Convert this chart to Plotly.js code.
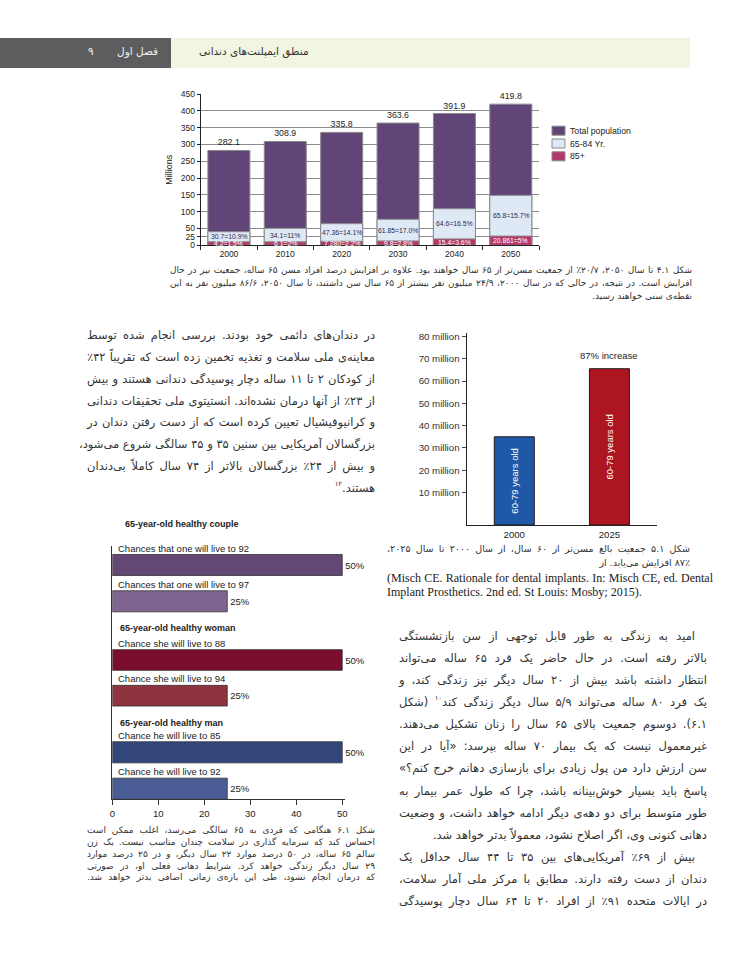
<!DOCTYPE html>
<html><head><meta charset="utf-8">
<script src="https://cdn.plot.ly/plotly-3.0.1.min.js"></script>
<style>
html,body{margin:0;padding:0;background:#fff;}
#page{position:relative;width:737px;height:977px;overflow:hidden;background:#fff;}
#chart{position:absolute;left:0;top:0;width:737px;height:977px;}
.ln{position:absolute;white-space:nowrap;direction:rtl;text-align:justify;text-align-last:justify;font-family:"DejaVu Sans",sans-serif;color:#333;}
.ln.last{text-align:right;text-align-last:right;}
.en{position:absolute;white-space:nowrap;direction:ltr;text-align:justify;text-align-last:justify;font-family:"Liberation Serif","DejaVu Serif",serif;color:#222;}
.en.last{text-align:left;text-align-last:left;}
sup{font-size:60%;vertical-align:6px;line-height:0;}
#err{position:absolute;left:0;top:0;font:10px monospace;color:red;z-index:9;}
</style></head>
<body><div id="page"><div id="chart"></div><div id="err"></div></div>
<script>
window.onerror = function(m){ document.getElementById('err').textContent += m + ' | '; };
// ---------- DATA ----------
// Figure 4.1 : US population (millions)
const years1 = [2000, 2010, 2020, 2030, 2040, 2050];
const totalPop = [282.1, 308.9, 335.8, 363.6, 391.9, 419.8];
const age6584Top = [40.4, 50.5, 64.3, 77.3, 108.8, 148.6];   // visual top of 65-84 bar
const age85Top = [10.5, 10.5, 12, 13, 19, 27.5];             // visual top of 85+ bar
const label6584 = ['30.7=10.9%','34.1=11%','47.36=14.1%','61.85=17.0%','64.6=16.5%','65.8=15.7%'];
const label85 = ['4.2=1.5%','6.1=2%','7.280=2.2%','9.8=2.8%','15.4=3.6%','20.861=5%'];
const seriesNames1 = ['Total population','65-84 Yr.','85+'];
const yTicks1 = [0,25,50,100,150,200,250,300,350,400,450];

// Figure 5.1 : adults 60-79
const years2 = [2000, 2025];
const pop6079 = [35, 65.5];
const barText2 = ['60-79 years old','60-79 years old'];
const increaseLabel = '87% increase';
const yTicks2 = [10,20,30,40,50,60,70,80];
const yTickText2 = yTicks2.map(v => v + ' million');

// Figure 6.1 : life expectancy chances
const groupTitles = ['65-year-old healthy couple','65-year-old healthy woman','65-year-old healthy man'];
const coupleLabels = ['Chances that one will live to 92','Chances that one will live to 97'];
const coupleValues = [50, 25];
const womanLabels = ['Chance she will live to 88','Chance she will live to 94'];
const womanValues = [50, 25];
const manLabels = ['Chance he will live to 85','Chance he will live to 92'];
const manValues = [50, 25];
const xTicks3 = [0,10,20,30,40,50];

// ---------- PAGE GEOMETRY ----------
const W = 737, H = 977;
const fx = p => p / W, fy = p => 1 - p / H;
const FONT = 'Liberation Sans, Arial, sans-serif';
const BASE2 = -4.5;

// ---------- TRACES ----------
const traces = [];
const c1 = ['#614579', '#dfe8f5', '#b5386a'];
[totalPop, age6584Top, age85Top].forEach((vals, i) => {
  const t = {type:'bar', name:seriesNames1[i], x:years1, y:vals, width:7.45,
    marker:{color:c1[i], line:{color:'#8a8a8a', width:1}}, xaxis:'x', yaxis:'y', hoverinfo:'skip', showlegend:false};
  if (i === 0) {
    t.text = vals.map(v => v.toFixed(1)); t.textposition = 'outside';
    t.textfont = {size:8.8, color:'#222'}; t.cliponaxis = false;
  }
  traces.push(t);
});

traces.push({type:'bar', x:years2, y:pop6079.map(v => v - BASE2), base:BASE2, width:10.5,
  marker:{color:['#1e58a6','#ad1621'], line:{color:'#1a1a1a', width:1}},
  text:barText2, textposition:'inside', textangle:-90, insidetextanchor:'middle',
  textfont:{size:9.5, color:'#ffffff', family:FONT}, xaxis:'x2', yaxis:'y2', showlegend:false, hoverinfo:'skip'});

const groups3 = [
  {labels:coupleLabels, values:coupleValues, colors:['#634876','#7f6590'], ya:'y3'},
  {labels:womanLabels, values:womanValues, colors:['#7a0e2c','#8e3441'], ya:'y4'},
  {labels:manLabels, values:manValues, colors:['#33467c','#4a5c94'], ya:'y5'}
];
groups3.forEach(g => {
  traces.push({type:'bar', orientation:'h', x:g.values, y:g.labels, width:0.58,
    marker:{color:g.colors, line:{color:'#333', width:0.8}},
    text:g.values.map(v => v + '%'), textposition:'outside', textfont:{size:9.5, color:'#222'},
    cliponaxis:false, xaxis:'x3', yaxis:g.ya, showlegend:false, hoverinfo:'skip'});
});

// ---------- ANNOTATIONS / LEGEND ----------
const ann = [];
const shapes = [];
years1.forEach((yr, i) => {
  ann.push({x:yr, y:(age85Top[i] + age6584Top[i]) / 2, xref:'x', yref:'y', text:label6584[i],
    showarrow:false, font:{size:6.8, color:'#2a2a50'}});
  ann.push({x:yr, y:age85Top[i] / 2, xref:'x', yref:'y', text:label85[i],
    showarrow:false, font:{size:6.8, color:'#ffffff'}});
});
// legend of figure 4.1
const legRows = [130.7, 143.5, 156.3];
seriesNames1.forEach((n, i) => {
  shapes.push({type:'rect', xref:'paper', yref:'paper', x0:fx(552), x1:fx(565),
    y0:fy(legRows[i] + 4.5), y1:fy(legRows[i] - 4.5), fillcolor:c1[i], line:{color:'#8a8a8a', width:1}});
  ann.push({x:fx(567.5), y:fy(legRows[i]), xref:'paper', yref:'paper', text:n, showarrow:false,
    xanchor:'left', yanchor:'middle', font:{size:8.7, color:'#222'}});
});
ann.push({x:years2[1], y:pop6079[1], xref:'x2', yref:'y2', text:increaseLabel, showarrow:false,
  yshift:13, font:{size:9.5, color:'#222'}});
groups3.forEach(g => {
  g.labels.forEach(l => {
    ann.push({x:0, y:l, xref:'x3', yref:g.ya, text:l, showarrow:false, xanchor:'left', yanchor:'bottom',
      xshift:4, yshift:9.5, font:{size:9.5, color:'#222'}});
  });
});
const titlePos = [[123, 524], [118, 628], [118, 723]];
groupTitles.forEach((t, i) => {
  ann.push({x:fx(titlePos[i][0]), y:fy(titlePos[i][1]), xref:'paper', yref:'paper', text:'<b>' + t + '</b>',
    showarrow:false, xanchor:'left', yanchor:'middle', font:{size:9, color:'#222'}});
});

// ---------- LAYOUT ----------
function catRange(topPx, botPx, firstPx, step) {
  return [1 + (botPx - (firstPx + step)) / step, -(firstPx - topPx) / step];
}
const layout = {
  width:W, height:H, margin:{l:0, r:0, t:0, b:0},
  paper_bgcolor:'rgba(0,0,0,0)', plot_bgcolor:'rgba(0,0,0,0)',
  font:{family:FONT, color:'#222'}, barmode:'overlay', showlegend:false,
  xaxis:{domain:[fx(200.7), fx(539)], anchor:'y', type:'linear', range:[1995, 2055],
    tickvals:years1, ticks:'', showline:true, linecolor:'#222', linewidth:1, showgrid:false, zeroline:false,
    minor:{tick0:1995, dtick:10, ticks:'outside', ticklen:4, tickcolor:'#222', showgrid:false},
    tickfont:{size:8.5}},
  yaxis:{domain:[fy(245.3), fy(94)], anchor:'x', range:[0,450], tickvals:yTicks1, ticks:'outside',
    ticklen:3, tickcolor:'#222', showline:true, linecolor:'#222', showgrid:true, gridcolor:'#5a5a5a',
    gridwidth:0.7, zeroline:false, tickfont:{size:8.5},
    title:{text:'Millions', font:{size:9}, standoff:6}},
  xaxis2:{domain:[fx(466.7), fx(657)], anchor:'y2', type:'linear', range:[1987.5, 2037.5], tickvals:years2,
    ticks:'', showline:true, linecolor:'#222', linewidth:1.2, showgrid:false, zeroline:false, tickfont:{size:9.6}},
  yaxis2:{domain:[fy(525), fy(333)], anchor:'x2', range:[BASE2, 81.5], tickvals:yTicks2, ticktext:yTickText2,
    ticks:'outside', ticklen:4, tickcolor:'#444', showline:true, linecolor:'#222', linewidth:1.2,
    showgrid:false, zeroline:false, tickfont:{size:9.7, color:'#333'}},
  xaxis3:{domain:[fx(112.3), fx(345)], anchor:'y5', range:[0, 50.6], tickvals:xTicks3, ticks:'outside',
    ticklen:5, tickcolor:'#333', showline:true, linecolor:'#333', showgrid:false, zeroline:false,
    tickfont:{size:9.5}},
  yaxis3:{domain:[fy(624), fy(546)], anchor:'x3', type:'category', range:catRange(546, 624, 565, 36.3),
    showticklabels:false, ticks:'', showline:true, linecolor:'#333', showgrid:false},
  yaxis4:{domain:[fy(718), fy(624)], anchor:'x3', type:'category', range:catRange(624, 718, 660, 35.7),
    showticklabels:false, ticks:'', showline:true, linecolor:'#333', showgrid:false},
  yaxis5:{domain:[fy(799.3), fy(718)], anchor:'x3', type:'category', range:catRange(718, 799.3, 752.3, 36.4),
    showticklabels:false, ticks:'', showline:true, linecolor:'#333', showgrid:false},
  shapes:shapes,
  annotations:ann
};
Plotly.newPlot('chart', traces, layout, {displayModeBar:false, staticPlot:true}).catch(e => {
  document.getElementById('err').textContent += String(e);
});

// ---------- PAGE TEXT ----------
const page = document.getElementById('page');
function box(style, html, cls) {
  const d = document.createElement('div');
  if (cls) d.className = cls;
  d.style.cssText = style; d.innerHTML = html; page.appendChild(d); return d;
}
// header
box('position:absolute;left:0;top:38px;width:171px;height:30px;background:#5d5d5f;', '');
box('position:absolute;left:171px;top:38px;width:519px;height:30px;background:#f1f5e2;', '');
box('position:absolute;left:117px;top:45px;font:10.5px "DejaVu Sans";color:#f2f2f2;direction:rtl;', 'فصل اول');
box('position:absolute;left:88px;top:45px;font:10.5px "DejaVu Sans";color:#f2f2f2;', '۹');
box('position:absolute;left:199px;top:45px;font:10.5px "DejaVu Sans";color:#333;direction:rtl;', 'منطق ایمپلنت‌های دندانی');

function para(lines, left, right, top, lh, size, opts) {
  opts = opts || {};
  lines.forEach((t, i) => {
    const y = top + i * lh;
    const isLast = (opts.last || []).includes(i);
    const ind = (opts.indent || []).includes(i) ? 'padding-right:' + (opts.indentPx || 12) + 'px;' : '';
    box('left:' + left + 'px;width:' + (right - left) + 'px;top:' + (y - lh / 2) + 'px;height:' + lh +
      'px;line-height:' + lh + 'px;font-size:' + size + 'px;box-sizing:border-box;' + ind,
      t, (opts.cls || 'ln') + (isLast ? ' last' : ''));
  });
}
// caption 4.1
para([
  'شکل ۴.۱ تا سال ۲۰۵۰، ۲۰/۷٪ از جمعیت مسن‌تر از ۶۵ سال خواهند بود. علاوه بر افزایش درصد افراد مسن ۶۵ ساله، جمعیت نیز در حال',
  'افزایش است. در نتیجه، در حالی که در سال ۲۰۰۰، ۲۴/۹ میلیون نفر بیشتر از ۶۵ سال سن داشتند، تا سال ۲۰۵۰، ۸۶/۶ میلیون نفر به این',
  'نقطه‌ی سنی خواهند رسید.'
], 170, 692, 270, 13, 9, {last:[2]});
// left column body
para([
  'در دندان‌های دائمی خود بودند. بررسی انجام شده توسط',
  'معاینه‌ی ملی سلامت و تغذیه تخمین زده است که تقریباً ۴۲٪',
  'از کودکان ۲ تا ۱۱ ساله دچار پوسیدگی دندانی هستند و بیش',
  'از ۲۳٪ از آنها درمان نشده‌اند. انستیتوی ملی تحقیقات دندانی',
  'و کرانیوفیشیال تعیین کرده است که از دست رفتن دندان در',
  'بزرگسالان آمریکایی بین سنین ۳۵ و ۴۵ سالگی شروع می‌شود،',
  'و بیش از ۲۴٪ بزرگسالان بالاتر از ۷۴ سال کاملاً بی‌دندان',
  'هستند.<sup>۱۲</sup>'
], 87, 375, 336, 21.8, 11.5, {last:[7]});
// caption 5.1
para([
  'شکل ۵.۱ جمعیت بالغ مسن‌تر از ۶۰ سال، از سال ۲۰۰۰ تا سال ۲۰۲۵،',
  '۸۷٪ افزایش می‌یابد. از'
], 387, 690, 549, 14, 9.5, {last:[1]});
para([
  '(Misch CE. Rationale for dental implants. In: Misch CE, ed. Dental',
  'Implant Prosthetics. 2nd ed. St Louis: Mosby; 2015).'
], 387, 713, 578, 14.3, 12, {cls:'en', last:[1]});
// right column body
para([
  'امید به زندگی به طور قابل توجهی از سن بازنشستگی',
  'بالاتر رفته است. در حال حاضر یک فرد ۶۵ ساله می‌تواند',
  'انتظار داشته باشد بیش از ۲۰ سال دیگر نیز زندگی کند، و',
  'یک فرد ۸۰ ساله می‌تواند ۵/۹ سال دیگر زندگی کند<sup>۱۰</sup> (شکل',
  '۶.۱). دوسوم جمعیت بالای ۶۵ سال را زنان تشکیل می‌دهند.',
  'غیرمعمول نیست که یک بیمار ۷۰ ساله بپرسد: «آیا در این',
  'سن ارزش دارد من پول زیادی برای بازسازی دهانم خرج کنم؟»',
  'پاسخ باید بسیار خوش‌بینانه باشد، چرا که طول عمر بیمار به',
  'طور متوسط برای دو دهه‌ی دیگر ادامه خواهد داشت، و وضعیت',
  'دهانی کنونی وی، اگر اصلاح نشود، معمولاً بدتر خواهد شد.',
  'بیش از ۶۹٪ آمریکایی‌های بین ۳۵ تا ۴۴ سال حداقل یک',
  'دندان از دست رفته دارند. مطابق با مرکز ملی آمار سلامت،',
  'در ایالات متحده ۹۱٪ از افراد ۲۰ تا ۶۴ سال دچار پوسیدگی'
], 399, 707, 636, 22.08, 11.5, {indent:[0,10], last:[9]});
// caption 6.1
para([
  'شکل ۶.۱ هنگامی که فردی به ۶۵ سالگی می‌رسد، اغلب ممکن است',
  'احساس کند که سرمایه گذاری در سلامت چندان مناسب نیست. یک زن',
  'سالم ۶۵ ساله، در ۵۰ درصد موارد ۲۲ سال دیگر، و در ۲۵ درصد موارد',
  '۲۹ سال دیگر زندگی خواهد کرد. شرایط دهانی فعلی او، در صورتی',
  'که درمان انجام نشود، طی این بازه‌ی زمانی اضافی بدتر خواهد شد.'
], 87, 375, 831, 11.8, 9, {});
</script></body></html>
